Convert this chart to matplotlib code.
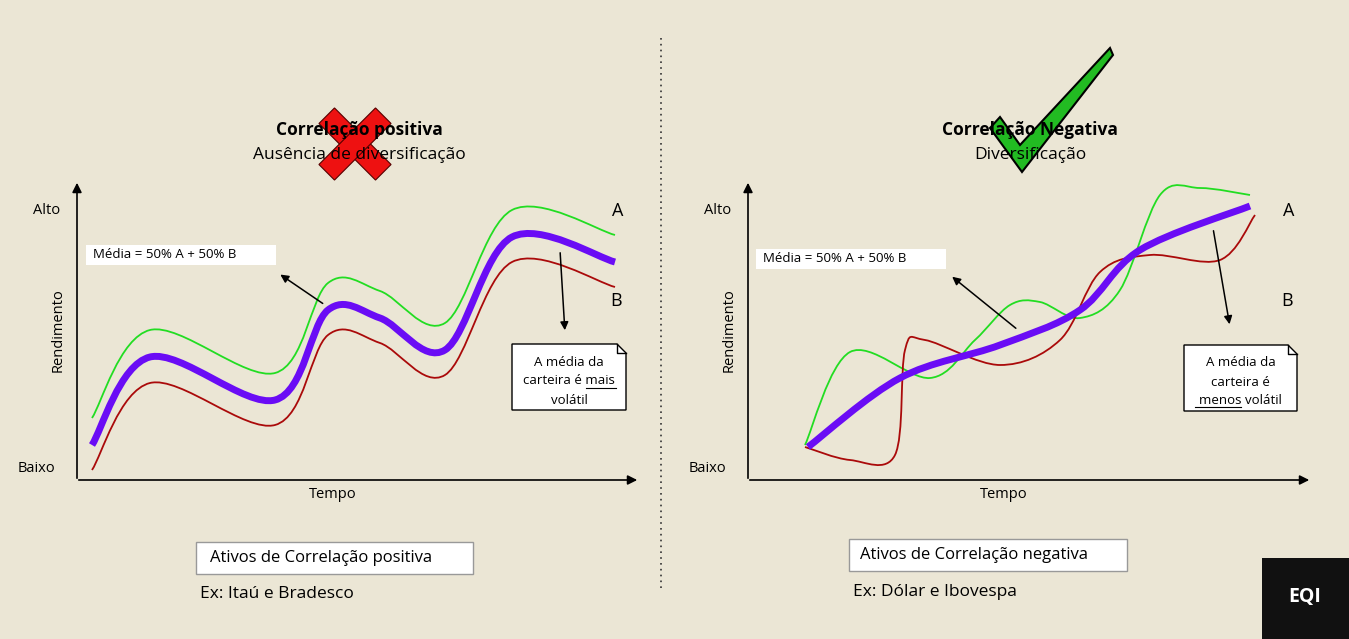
import matplotlib
matplotlib.use('Agg')
import matplotlib.pyplot as plt
from matplotlib.path import Path
from matplotlib.patches import PathPatch, Polygon, Rectangle
import numpy as np

plt.rcParams['font.family'] = 'Open Sans'
BG = '#ebe6d5'
GREEN = '#22dd22'
RED = '#aa0a0a'
PURPLE = '#6a0cf5'

# curve nodes, in picture pixels (x, y from top)
left_x = [92, 150, 275, 328, 380, 445, 512, 615]
left_mean = [445, 357, 400, 310, 318, 350, 237, 262]
left_a = [418, 330, 373, 283, 291, 323, 210, 235]
left_b = [470, 383, 425, 335, 343, 375, 262, 287]

right_mean_x = [808, 900, 1000, 1080, 1140, 1250]
right_mean_y = [447, 378, 345, 310, 250, 206]
right_a_x = [805, 850, 930, 975, 1010, 1040, 1080, 1120, 1160, 1200, 1250]
right_a_y = [445, 352, 378, 340, 305, 302, 318, 290, 195, 188, 195]
right_b_x = [805, 850, 895, 905, 925, 1000, 1060, 1100, 1150, 1220, 1255]
right_b_y = [447, 460, 455, 350, 340, 365, 340, 272, 255, 260, 215]


def smooth(ax, xs, ys, color, lw):
    p = np.column_stack([xs, ys]).astype(float)
    p = np.vstack([p[0], p, p[-1]])
    verts, codes = [tuple(p[1])], [Path.MOVETO]
    for i in range(1, len(p) - 2):
        c1 = p[i] + (p[i + 1] - p[i - 1]) / 6
        c2 = p[i + 1] - (p[i + 2] - p[i]) / 6
        verts += [tuple(c1), tuple(c2), tuple(p[i + 1])]
        codes += [Path.CURVE4] * 3
    ax.add_patch(PathPatch(Path(verts, codes), fill=False, ec=color, lw=lw,
                           capstyle='butt', joinstyle='round'))


fig = plt.figure(figsize=(13.49, 6.39), dpi=100, facecolor=BG)
ax = fig.add_axes([0, 0, 1, 1])
ax.set_xlim(0, 1349)
ax.set_ylim(639, 0)
ax.axis('off')
ax.set_facecolor(BG)

arr = dict(arrowstyle='-|>', color='black', lw=1.2, mutation_scale=14)
for x0, x1 in [(77, 640), (748, 1312)]:
    ax.annotate('', xy=(x0, 180), xytext=(x0, 481), arrowprops=arr)
    ax.annotate('', xy=(x1, 480), xytext=(x0 - 1, 480), arrowprops=arr)

smooth(ax, left_x, left_a, GREEN, 1.3)
smooth(ax, left_x, left_b, RED, 1.3)
smooth(ax, left_x, left_mean, PURPLE, 5)
smooth(ax, right_a_x, right_a_y, GREEN, 1.3)
smooth(ax, right_b_x, right_b_y, RED, 1.3)
smooth(ax, right_mean_x, right_mean_y, PURPLE, 5)

ax.plot([661, 661], [38, 592], color='#333333', lw=1.2, ls=(0, (1, 2.5)))

for ox, title, sub in [(0, 'Correlação positiva', 'Ausência de diversificação'),
                       (671, 'Correlação Negativa', 'Diversificação')]:
    ax.text(359 + ox, 130, title, ha='center', va='center', fontsize=12.5, weight='bold')
    ax.text(359 + ox, 155, sub, ha='center', va='center', fontsize=12.5)
    ax.text(60 + ox, 211, 'Alto', ha='right', va='center', fontsize=10.5)
    ax.text(55 + ox, 468, 'Baixo', ha='right', va='center', fontsize=10.5)
    ax.text(58 + ox, 330, 'Rendimento', rotation=90, ha='center', va='center', fontsize=10.5)
    ax.text(333 + ox, 495, 'Tempo', ha='center', va='center', fontsize=10.5)

ax.text(618, 211, 'A', ha='center', va='center', fontsize=13)
ax.text(616, 301, 'B', ha='center', va='center', fontsize=13)
ax.text(1289, 211, 'A', ha='center', va='center', fontsize=13)
ax.text(1287, 301, 'B', ha='center', va='center', fontsize=13)

# legend labels
ax.add_patch(Rectangle((86, 245), 190, 20, fc='white', ec='none'))
ax.text(93, 255, 'Média = 50% A + 50% B', va='center', fontsize=9.5)
ax.add_patch(Rectangle((756, 249), 190, 20, fc='white', ec='none'))
ax.text(763, 259, 'Média = 50% A + 50% B', va='center', fontsize=9.5)

a2 = dict(arrowstyle='-|>', color='black', lw=1.1, mutation_scale=12)
ax.annotate('', xy=(278, 273), xytext=(325, 305), arrowprops=a2)
ax.annotate('', xy=(565, 333), xytext=(560, 250), arrowprops=a2)
ax.annotate('', xy=(950, 275), xytext=(1018, 330), arrowprops=a2)
ax.annotate('', xy=(1230, 327), xytext=(1213, 228), arrowprops=a2)


def note(x0, y0, w, h, lines):
    f = 9
    pts = [(x0, y0), (x0 + w - f, y0), (x0 + w, y0 + f), (x0 + w, y0 + h), (x0, y0 + h)]
    ax.add_patch(Polygon(pts, closed=True, fc='white', ec='black', lw=1))
    ax.plot([x0 + w - f, x0 + w - f, x0 + w], [y0, y0 + f, y0 + f], color='black', lw=1)
    for i, ln in enumerate(lines):
        ax.text(x0 + w / 2, y0 + 18 + i * 19, ln, ha='center', va='center', fontsize=9.5)


note(512, 344, 114, 66, ['A média da', 'carteira é mais', 'volátil'])
ax.plot([586, 616], [388, 388], color='black', lw=0.8)
note(1184, 345, 113, 66, ['A média da', 'carteira é', 'menos volátil'])
ax.plot([1195, 1241], [407, 407], color='black', lw=0.8)

ax.add_patch(Rectangle((196, 542), 277, 32, fc='white', ec='#999999', lw=1))
ax.text(210, 558, 'Ativos de Correlação positiva', va='center', fontsize=12)
ax.text(200, 594, 'Ex: Itaú e Bradesco', va='center', fontsize=12.5)
ax.add_patch(Rectangle((849, 539), 278, 32, fc='white', ec='#999999', lw=1))
ax.text(860, 555, 'Ativos de Correlação negativa', va='center', fontsize=12)
ax.text(853, 592, 'Ex: Dólar e Ibovespa', va='center', fontsize=12.5)

# red X
cx, cy, L, W = 355, 144, 40, 11
for s in (1, -1):
    d = np.array([1, s]) / np.sqrt(2)
    n = np.array([-d[1], d[0]])
    c = np.array([cx, cy])
    pts = [c - L * d - W * n, c + L * d - W * n, c + L * d + W * n, c - L * d + W * n]
    ax.add_patch(Polygon(pts, closed=True, fc='#ee1111', ec='#550000', lw=0.8))

# green check
ax.add_patch(Polygon([(990, 128), (1000, 117), (1020, 145), (1110, 48), (1113, 55),
                      (1022, 172)], closed=True, fc='#22bb22', ec='black', lw=1.5))

# logo
ax.add_patch(Rectangle((1262, 558), 87, 81, fc='#111111', ec='none'))
ax.text(1305, 597, 'EQI', ha='center', va='center', color='white', fontsize=14,
        weight='bold')

fig.savefig('out.png', dpi=100, facecolor=BG)
